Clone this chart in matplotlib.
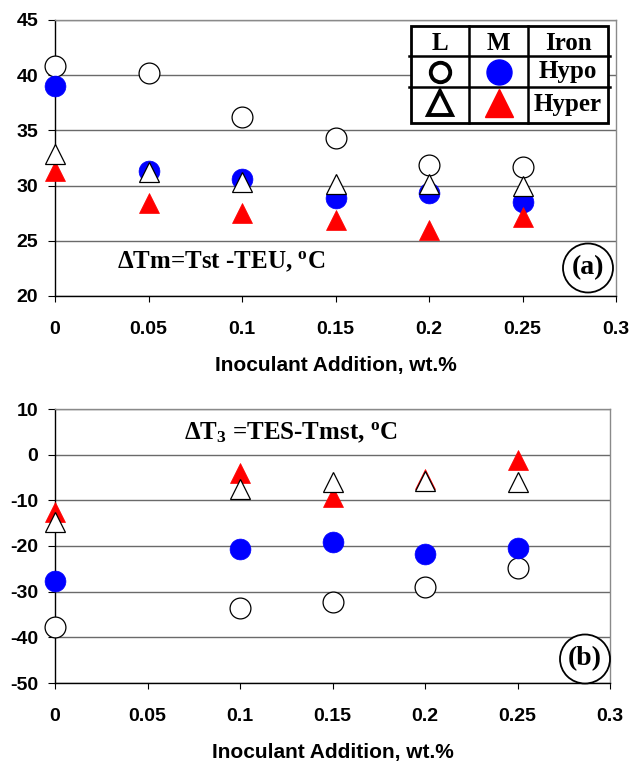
import matplotlib
matplotlib.use("Agg")
import matplotlib.pyplot as plt
from matplotlib.patches import Rectangle, Ellipse
from matplotlib.lines import Line2D

plt.rcParams['font.family'] = ['Liberation Sans', 'DejaVu Sans']
plt.rcParams['axes.unicode_minus'] = False
plt.rcParams['mathtext.fontset'] = 'custom'
plt.rcParams['mathtext.rm'] = 'Liberation Serif:bold'
plt.rcParams['mathtext.it'] = 'Liberation Serif:bold'
plt.rcParams['mathtext.bf'] = 'Liberation Serif:bold'

# ---------------- data ----------------
x_a = [0, 0.05, 0.1, 0.15, 0.2, 0.25]
a_L_hypo = [40.8, 40.2, 36.2, 34.3, 31.9, 31.7]
a_M_hypo = [39.0, 31.3, 30.6, 28.9, 29.3, 28.5]
a_L_hyper = [32.9, 31.2, 30.3, 30.1, 30.1, 30.0]
a_M_hyper = [31.3, 28.4, 27.5, 26.9, 26.0, 27.2]

x_b = [0, 0.1, 0.15, 0.2, 0.25]
b_L_hypo = [-37.7, -33.5, -32.3, -29.0, -24.8]
b_M_hypo = [-27.6, -20.6, -19.2, -21.7, -20.4]
b_L_hyper = [-14.7, -7.6, -6.0, -5.8, -6.0]
b_M_hyper = [-12.6, -4.0, -9.3, -5.3, -1.1]

x_ticks = [0, 0.05, 0.1, 0.15, 0.2, 0.25, 0.3]
x_ticklabels = ["0", "0.05", "0.1", "0.15", "0.2", "0.25", "0.3"]
a_yticks = [20, 25, 30, 35, 40, 45]
b_yticks = [-50, -40, -30, -20, -10, 0, 10]
xlabel = "Inoculant Addition, wt.%"
legend_headers = ["L", "M", "Iron"]
legend_rows = ["Hypo", "Hyper"]

W, H = 631, 761
fig = plt.figure(figsize=(W / 100, H / 100), dpi=100)
ax_a = fig.add_axes([55 / W, 1 - 296 / H, 561 / W, 276 / H])
ax_b = fig.add_axes([55 / W, 1 - 683 / H, 555 / W, 274 / H])

GRID = '#6a6a6a'
BLUE = '#0000ff'
RED = '#ff0000'
MS = 15


def style(ax, yticks):
    ax.set_xlim(0, 0.3)
    ax.set_ylim(yticks[0], yticks[-1])
    ax.set_xticks(x_ticks)
    ax.set_xticklabels(x_ticklabels)
    ax.set_yticks(yticks)
    ax.grid(axis='y', color=GRID, lw=1.0, zorder=0)
    ax.set_axisbelow(True)
    for s in ['top', 'right']:
        ax.spines[s].set_color('#8a8a8a')
        ax.spines[s].set_linewidth(1.0)
    for s in ['left', 'bottom']:
        ax.spines[s].set_color('black')
        ax.spines[s].set_linewidth(1.0)
    ax.tick_params(axis='x', direction='out', length=4, pad=14, labelsize=14)
    ax.tick_params(axis='y', direction='out', length=5, pad=7, labelsize=14)
    for lab in ax.get_xticklabels() + ax.get_yticklabels():
        lab.set_fontweight('bold')
    ax.set_xlabel(xlabel, fontsize=15, fontweight='bold', labelpad=13)


def plot_series(ax, x, lh, mh, lr, mr):
    ax.plot(x, lh, ls='none', marker='o', ms=MS, mfc='white', mec='black', mew=0.9, zorder=3, clip_on=False)
    ax.plot(x, mh, ls='none', marker='o', ms=MS, mfc=BLUE, mec=BLUE, mew=0.5, zorder=4, clip_on=False)
    ax.plot(x, mr, ls='none', marker='^', ms=MS, mfc=RED, mec=RED, mew=0.5, zorder=5, clip_on=False)
    ax.plot(x, lr, ls='none', marker='^', ms=MS, mfc='white', mec='black', mew=0.9, zorder=6, clip_on=False)


style(ax_a, a_yticks)
style(ax_b, b_yticks)
plot_series(ax_a, x_a, a_L_hypo, a_M_hypo, a_L_hyper, a_M_hyper)
plot_series(ax_b, x_b, b_L_hypo, b_M_hypo, b_L_hyper, b_M_hyper)

# annotations
ax_a.text(117 / W, 1 - 262 / H, r"$\Delta$Tm=Tst -TEU, $^{\rm o}$C", transform=fig.transFigure,
          fontsize=18, family='Liberation Serif', fontweight='bold', va='center', ha='left')
ax_b.text(184 / W, 1 - 433 / H, r"$\Delta$T$_3$ =TES-Tmst, $^{\rm o}$C", transform=fig.transFigure,
          fontsize=18, family='Liberation Serif', fontweight='bold', va='center', ha='left')

for cx, cy, lab in [(588, 268, "(a)"), (585, 659, "(b)")]:
    e = Ellipse((cx / W, 1 - cy / H), 50 / W, 49 / H, transform=fig.transFigure,
                fc='white', ec='black', lw=1.3, zorder=10)
    fig.add_artist(e)
    fig.text(cx / W, 1 - cy / H, lab, fontsize=20, family='Liberation Serif', fontweight='bold',
             ha='center', va='center', zorder=11)

# legend table (pixel coordinates -> figure fraction)
def fx(px):
    return px / W


def fy(py):
    return 1 - py / H


tx0, tx1, ty0, ty1 = 411, 608, 26, 123
cols = [469, 528]
rows = [56, 87]
fig.add_artist(Rectangle((fx(tx0), fy(ty1)), fx(tx1) - fx(tx0), fy(ty0) - fy(ty1),
                         transform=fig.transFigure, fc='white', ec='black', lw=2.0, zorder=20))
for c in cols:
    fig.add_artist(Line2D([fx(c), fx(c)], [fy(ty0), fy(ty1)], transform=fig.transFigure,
                          color='black', lw=1.8, zorder=21))
for r in rows:
    fig.add_artist(Line2D([fx(tx0 - 2), fx(tx1 + 2)], [fy(r), fy(r)], transform=fig.transFigure,
                          color='black', lw=1.8, zorder=21))

col_c = [(tx0 + cols[0]) / 2, (cols[0] + cols[1]) / 2, (cols[1] + tx1) / 2]
row_c = [(ty0 + rows[0]) / 2 + 2, (rows[0] + rows[1]) / 2, (rows[1] + ty1) / 2]
for cc, txt in zip(col_c, legend_headers):
    fig.text(fx(cc), fy(row_c[0]), txt, fontsize=18, family='Liberation Serif', fontweight='bold',
             ha='center', va='center', zorder=22)
for rc, txt in zip(row_c[1:], legend_rows):
    fig.text(fx(col_c[2]), fy(rc), txt, fontsize=18, family='Liberation Serif', fontweight='bold',
             ha='center', va='center', zorder=22)

fig.add_artist(Line2D([fx(col_c[0])], [fy(row_c[1])], transform=fig.transFigure, marker='o', ms=14,
                      mfc='white', mec='black', mew=2.8, ls='none', zorder=22))
fig.add_artist(Line2D([fx(col_c[1])], [fy(row_c[1])], transform=fig.transFigure, marker='o', ms=18,
                      mfc=BLUE, mec=BLUE, ls='none', zorder=22))
fig.add_artist(Line2D([fx(col_c[0])], [fy(row_c[2]) + 0.002], transform=fig.transFigure, marker='^', ms=17,
                      mfc='white', mec='black', mew=2.8, ls='none', zorder=22))
fig.add_artist(Line2D([fx(col_c[1])], [fy(row_c[2]) + 0.002], transform=fig.transFigure, marker='^', ms=20,
                      mfc=RED, mec=RED, ls='none', zorder=22))

fig.savefig("out.png", dpi=100)
